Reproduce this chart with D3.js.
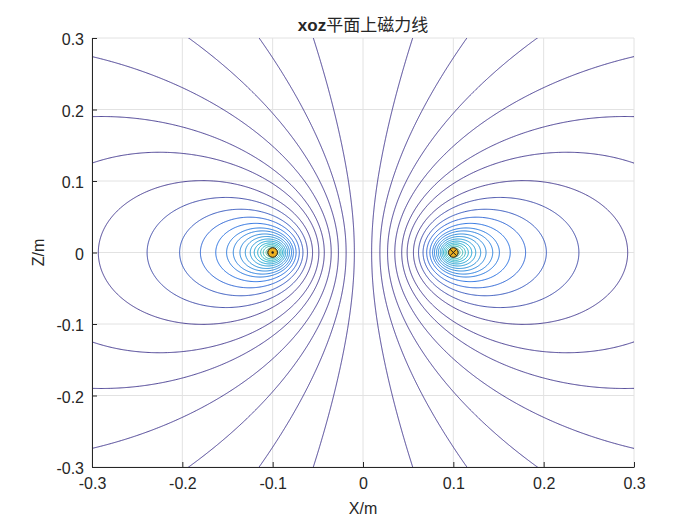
<!DOCTYPE html>
<html>
<head>
<meta charset="utf-8">
<script src="https://cdn.jsdelivr.net/npm/d3@7"></script>
<style>
  body { margin: 0; background: #fff; }
  svg text { font-family: "Liberation Sans", Arial, sans-serif; fill: #262626; }
</style>
</head>
<body>
<svg id="chart" width="700" height="525"></svg>
<script>
// axis ticks
const xTicks = [-0.3, -0.2, -0.1, 0, 0.1, 0.2, 0.3];
const zTicks = [-0.3, -0.2, -0.1, 0, 0.1, 0.2, 0.3];

// current loop of radius 0.1 m, cutting the xoz plane at x = -0.1 (out) and x = 0.1 (in)
const loopRadius = 0.1;
const wireX = [-0.1, 0.1];
const wireMark = ['dot', 'cross'];

// where the drawn field lines meet things (m)
const topCrossX = [0.055, 0.115, 0.193];   // lines hitting z = +-0.3
const sideCrossZ = [0.274, 0.19, 0.125];   // lines hitting x = +-0.3
const midCrossX = [0.293, 0.239, 0.203, 0.180, 0.163, 0.151, 0.1436, 0.1362,
                   0.1303, 0.1248, 0.1204, 0.1166, 0.1133, 0.1104, 0.1074,
                   0.1058, 0.1046]; // lines crossing z = 0

// colour range (flux units, mu0*I = 1)
const colorMin = 0.009;
const colorMax = 0.075;

const parula = ['#352a87', '#0f5cdd', '#1481d6', '#06a4ca', '#2eb7a4',
                '#87bf77', '#d1bb59', '#fec832', '#f9fb0e'];

// complete elliptic integrals K(m), E(m) by AGM
function ellipKE(m) {
  let a = 1, b = Math.sqrt(1 - m), s = m / 2, p = 0.5;
  for (let i = 0; i < 40; i++) {
    let c = (a - b) / 2;
    if (Math.abs(c) < 1e-16) break;
    let an = (a + b) / 2, bn = Math.sqrt(a * b);
    p *= 2;
    s += p * c * c;
    a = an; b = bn;
  }
  let K = Math.PI / (2 * a);
  return [K, K * (1 - s)];
}

// flux function r*A_phi of the loop; its contours are the field lines
function flux(x, z) {
  let r = Math.abs(x);
  if (r < 1e-9) return 0;
  let m = 4 * loopRadius * r / ((loopRadius + r) * (loopRadius + r) + z * z);
  if (m >= 1 - 1e-12) return 10;
  let ke = ellipKE(m);
  let k = Math.sqrt(m);
  let A = (1 / (Math.PI * k)) * Math.sqrt(loopRadius / r) * ((1 - m / 2) * ke[0] - ke[1]);
  return r * A;
}

let levels = [];
topCrossX.forEach(x => levels.push(flux(x, 0.3)));
sideCrossZ.forEach(z => levels.push(flux(0.3, z)));
midCrossX.forEach(x => levels.push(flux(x, 0)));
levels.sort((a, b) => a - b);

let svg = d3.select('#chart');
let margin = { top: 38, right: 66, bottom: 58, left: 92 };
let width = 700 - margin.left - margin.right;
let height = 525 - margin.top - margin.bottom;

let xScale = d3.scaleLinear().domain([-0.3, 0.3]).range([margin.left, margin.left + width]);
let zScale = d3.scaleLinear().domain([-0.3, 0.3]).range([margin.top + height, margin.top]);

// grid lines
let grid = svg.append('g').attr('stroke', '#e2e2e2').attr('stroke-width', 1);
xTicks.forEach(t => {
  grid.append('line').attr('x1', xScale(t)).attr('x2', xScale(t))
    .attr('y1', margin.top).attr('y2', margin.top + height);
});
zTicks.forEach(t => {
  grid.append('line').attr('y1', zScale(t)).attr('y2', zScale(t))
    .attr('x1', margin.left).attr('x2', margin.left + width);
});

// sample the flux on a grid a bit larger than the axes
let step = 0.001, x0 = -0.31, z0 = 0.31;
let n = Math.round(0.62 / step) + 1;
let values = new Float64Array(n * n);
for (let j = 0; j < n; j++) {
  for (let i = 0; i < n; i++) {
    values[j * n + i] = flux(x0 + i * step, z0 - j * step);
  }
}

let contours = d3.contours().size([n, n]).thresholds(levels)(values);

let path = d3.geoPath(d3.geoTransform({
  point: function(x, y) {
    this.stream.point(xScale(x0 + (x - 0.5) * step), zScale(z0 - (y - 0.5) * step));
  }
}));

let color = d3.scaleLinear()
  .domain(parula.map((c, i) => colorMin + i / (parula.length - 1) * (colorMax - colorMin)))
  .range(parula)
  .clamp(true);

svg.append('clipPath').attr('id', 'plot-clip')
  .append('rect')
  .attr('x', margin.left).attr('y', margin.top)
  .attr('width', width).attr('height', height);

svg.append('g')
  .attr('clip-path', 'url(#plot-clip)')
  .selectAll('path')
  .data(contours)
  .enter()
  .append('path')
  .attr('d', path)
  .attr('fill', 'none')
  .attr('stroke', d => color(d.value))
  .attr('stroke-width', 0.9);

// wires
let wires = svg.append('g');
wireX.forEach((x, i) => {
  let cx = xScale(x), cy = zScale(0);
  wires.append('circle').attr('cx', cx).attr('cy', cy).attr('r', 4.8)
    .attr('fill', '#edb120').attr('stroke', '#1a1a1a').attr('stroke-width', 1);
  if (wireMark[i] === 'dot') {
    wires.append('circle').attr('cx', cx).attr('cy', cy).attr('r', 1.2).attr('fill', '#1a1a1a');
  } else {
    let s = 3.2;
    wires.append('path')
      .attr('d', `M${cx - s},${cy - s}L${cx + s},${cy + s}M${cx - s},${cy + s}L${cx + s},${cy - s}`)
      .attr('stroke', '#1a1a1a').attr('stroke-width', 1);
  }
});

// axes (box off, ticks inside)
let fmt = d => d === 0 ? '0' : String(d);

let xAxis = svg.append('g')
  .attr('transform', 'translate(0,' + (margin.top + height) + ')')
  .call(d3.axisBottom(xScale).tickValues(xTicks).tickFormat(fmt)
    .tickSizeInner(-5).tickSizeOuter(0).tickPadding(11));

let yAxis = svg.append('g')
  .attr('transform', 'translate(' + margin.left + ',0)')
  .call(d3.axisLeft(zScale).tickValues(zTicks).tickFormat(fmt)
    .tickSizeInner(-5).tickSizeOuter(0).tickPadding(8));

[xAxis, yAxis].forEach(ax => {
  ax.select('.domain').attr('stroke', '#262626');
  ax.selectAll('.tick line').attr('stroke', '#262626');
  ax.selectAll('.tick text')
    .style('font-family', '"Liberation Sans", Arial, sans-serif')
    .style('font-size', '16px')
    .attr('fill', '#262626');
});
yAxis.selectAll('.tick text').attr('dy', '0.42em');

// labels
svg.append('text')
  .attr('x', margin.left + width / 2).attr('y', 514)
  .attr('text-anchor', 'middle')
  .style('font-size', '16px')
  .text('X/m');

svg.append('text')
  .attr('transform', 'translate(44,' + (margin.top + height / 2) + ') rotate(-90)')
  .attr('text-anchor', 'middle')
  .style('font-size', '16px')
  .text('Z/m');

let title = svg.append('text')
  .attr('x', margin.left + width / 2).attr('y', 31)
  .attr('text-anchor', 'middle')
  .style('font-size', '17px');
title.append('tspan').style('font-weight', 'bold').text('xoz');
title.append('tspan')
  .style('font-family', '"Noto Sans CJK SC", sans-serif')
  .style('font-size', '17px')
  .text('平面上磁力线');
</script>
</body>
</html>
